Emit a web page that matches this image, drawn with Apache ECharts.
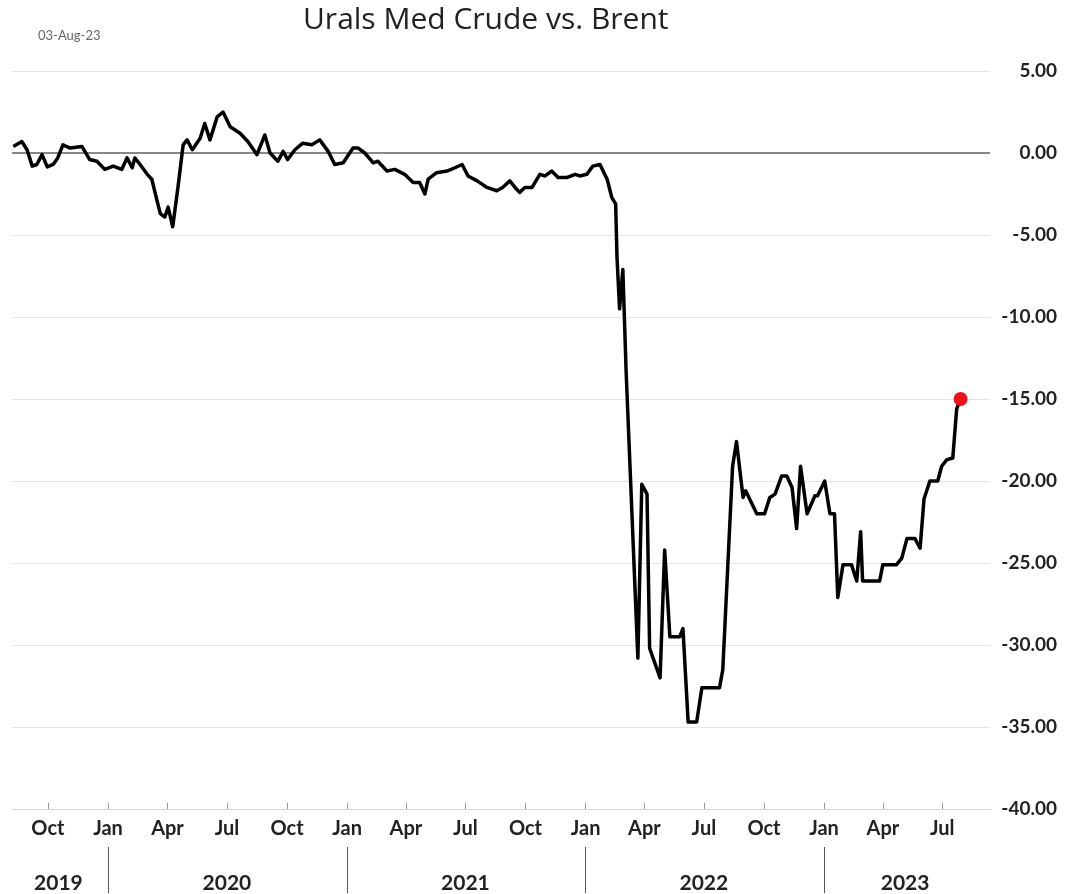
<!DOCTYPE html>
<html>
<head>
<meta charset="utf-8">
<script src="https://cdn.jsdelivr.net/npm/echarts@6/dist/echarts.min.js"></script>
<style>
    html, body { margin: 0; padding: 0; background: #fff; }
    #chart { width: 1083px; height: 894px; }
</style>
</head>
<body>
<div id="chart"></div>
<script>
// Urals Med Crude 对 Brent 价差 (美元/桶), 按图上读数估计
var dates = [
    '2019-08-09', '2019-08-22', '2019-08-30', '2019-09-07', '2019-09-14', '2019-09-22', '2019-09-30',
    '2019-10-09', '2019-10-16', '2019-10-24', '2019-11-04', '2019-11-22', '2019-12-04', '2019-12-15',
    '2019-12-27', '2020-01-09', '2020-01-22', '2020-01-30', '2020-02-07', '2020-02-11', '2020-02-19',
    '2020-03-01', '2020-03-08', '2020-03-16', '2020-03-21', '2020-03-28', '2020-04-02', '2020-04-09',
    '2020-04-17', '2020-04-25', '2020-05-01', '2020-05-09', '2020-05-21', '2020-05-28', '2020-06-05',
    '2020-06-16', '2020-06-25', '2020-07-06', '2020-07-21', '2020-08-02', '2020-08-16', '2020-08-28',
    '2020-09-05', '2020-09-17', '2020-09-25', '2020-10-02', '2020-10-13', '2020-10-25', '2020-11-08',
    '2020-11-20', '2020-12-03', '2020-12-13', '2020-12-26', '2021-01-10', '2021-01-18', '2021-01-28',
    '2021-02-10', '2021-02-17', '2021-03-03', '2021-03-15', '2021-03-30', '2021-04-12', '2021-04-22',
    '2021-04-30', '2021-05-05', '2021-05-18', '2021-06-03', '2021-06-15', '2021-06-26', '2021-07-05',
    '2021-07-19', '2021-08-03', '2021-08-18', '2021-08-27', '2021-09-07', '2021-09-15', '2021-09-22',
    '2021-09-30', '2021-10-11', '2021-10-23', '2021-10-31', '2021-11-10', '2021-11-20', '2021-12-03',
    '2021-12-16', '2021-12-23', '2022-01-03', '2022-01-12', '2022-01-23', '2022-02-03', '2022-02-10',
    '2022-02-16', '2022-02-18', '2022-02-22', '2022-02-27', '2022-03-04', '2022-03-22', '2022-03-28',
    '2022-04-05', '2022-04-09', '2022-04-25', '2022-05-02', '2022-05-10', '2022-05-25', '2022-05-30',
    '2022-06-07', '2022-06-20', '2022-06-28', '2022-07-25', '2022-07-30', '2022-08-14', '2022-08-20',
    '2022-08-30', '2022-09-03', '2022-09-20', '2022-10-02', '2022-10-10', '2022-10-18', '2022-10-28',
    '2022-11-05', '2022-11-13', '2022-11-20', '2022-11-26', '2022-12-06', '2022-12-18', '2022-12-22',
    '2023-01-02', '2023-01-10', '2023-01-17', '2023-01-22', '2023-01-30', '2023-02-12', '2023-02-20',
    '2023-02-26', '2023-03-01', '2023-03-27', '2023-04-01', '2023-04-22', '2023-04-30', '2023-05-08',
    '2023-05-20', '2023-05-28', '2023-06-03', '2023-06-12', '2023-06-24', '2023-06-30', '2023-07-08',
    '2023-07-17', '2023-07-23', '2023-07-29'
];
var spread = [
    0.4, 0.7, 0.2, -0.8, -0.7, -0.1, -0.85,
    -0.7, -0.3, 0.5, 0.3, 0.4, -0.4, -0.5,
    -1.0, -0.8, -1.0, -0.3, -0.9, -0.3, -0.7,
    -1.3, -1.6, -2.9, -3.7, -3.9, -3.3, -4.5,
    -2.1, 0.5, 0.8, 0.2, 0.9, 1.8, 0.8,
    2.2, 2.5, 1.6, 1.2, 0.7, -0.1, 1.1,
    0.0, -0.5, 0.1, -0.4, 0.2, 0.6, 0.5,
    0.8, 0.1, -0.7, -0.6, 0.3, 0.3, 0.0,
    -0.6, -0.5, -1.1, -1.0, -1.3, -1.8, -1.8,
    -2.5, -1.6, -1.2, -1.1, -0.9, -0.7, -1.4,
    -1.7, -2.1, -2.3, -2.1, -1.7, -2.1, -2.4,
    -2.1, -2.1, -1.3, -1.4, -1.1, -1.5, -1.5,
    -1.3, -1.4, -1.3, -0.8, -0.7, -1.6, -2.7,
    -3.1, -6.3, -9.5, -7.1, -13.3, -30.8, -20.2,
    -20.8, -30.2, -32.0, -24.2, -29.5, -29.5, -29.0,
    -34.7, -34.7, -32.6, -32.6, -31.5, -19.1, -17.6,
    -21.0, -20.6, -22.0, -22.0, -21.0, -20.8, -19.7,
    -19.7, -20.4, -22.9, -19.1, -22.0, -20.9, -20.9,
    -20.0, -22.0, -22.0, -27.1, -25.1, -25.1, -26.1,
    -23.1, -26.1, -26.1, -25.1, -25.1, -24.7, -23.5,
    -23.5, -24.1, -21.1, -20.0, -20.0, -19.1, -18.7,
    -18.6, -15.6, -15.0
];

// x 轴刻度(季度)与年份标签
var quarterTicks = [
    '2019-10-01', '2020-01-01', '2020-04-01', '2020-07-01', '2020-10-01', '2021-01-01', '2021-04-01',
    '2021-07-01', '2021-10-01', '2022-01-01', '2022-04-01', '2022-07-01', '2022-10-01', '2023-01-01',
    '2023-04-01', '2023-07-01'
];
var monthNames = ['Jan', 'Feb', 'Mar', 'Apr', 'May', 'Jun', 'Jul', 'Aug', 'Sep', 'Oct', 'Nov', 'Dec'];
var yearBreaks = ['2020-01-01', '2021-01-01', '2022-01-01', '2023-01-01'];
var yearLabelAt = ['2019-10-17', '2020-07-01', '2021-07-01', '2022-07-01', '2023-05-05'];

var axisMin = '2019-08-07';
var axisMax = '2023-09-12';
var font = 'Lato, "Open Sans", sans-serif';

function toTime(s) {
    var p = s.split('-');
    return new Date(+p[0], +p[1] - 1, +p[2]).getTime();
}

var lineData = dates.map(function (d, i) {
    return [toTime(d), spread[i]];
});
var lastPoint = lineData[lineData.length - 1];

var myChart = echarts.init(document.getElementById('chart'));
myChart.setOption({
    backgroundColor: '#fff',
    animation: false,
    title: [
        {
            text: 'Urals Med Crude vs. Brent',
            left: 298,
            top: 0,
            textStyle: {fontFamily: '"Open Sans", sans-serif', fontSize: 30, fontWeight: 'normal', color: '#222'}
        },
        {
            text: '03-Aug-23',
            left: 33,
            top: 24,
            textStyle: {fontFamily: font, fontSize: 13, fontWeight: 'normal', color: '#666'}
        }
    ],
    grid: {left: 12, right: 93, top: 71, bottom: 84},
    xAxis: [
        {
            // 时间戳作为数值轴, 以便自定义季度刻度
            type: 'value',
            min: toTime(axisMin),
            max: toTime(axisMax),
            axisLine: {onZero: false, lineStyle: {color: '#d8d8d8', width: 1}},
            axisTick: {
                show: true,
                inside: true,
                length: 6,
                lineStyle: {color: '#999'},
                customValues: quarterTicks.map(toTime)
            },
            axisLabel: {
                customValues: quarterTicks.map(toTime),
                margin: 10,
                fontFamily: font,
                fontSize: 20,
                fontWeight: 'bold',
                color: '#222',
                formatter: function (v) {
                    return monthNames[new Date(v).getMonth()];
                }
            },
            splitLine: {show: false}
        },
        {
            type: 'value',
            position: 'bottom',
            offset: 38,
            min: toTime(axisMin),
            max: toTime(axisMax),
            axisLine: {show: false, onZero: false},
            axisTick: {
                show: true,
                length: 46,
                lineStyle: {color: '#555', width: 1},
                customValues: yearBreaks.map(toTime)
            },
            axisLabel: {
                customValues: yearLabelAt.map(toTime),
                margin: 26,
                fontFamily: font,
                fontSize: 21,
                fontWeight: 'bold',
                color: '#222',
                formatter: function (v) {
                    return String(new Date(v).getFullYear());
                }
            },
            splitLine: {show: false}
        }
    ],
    yAxis: {
        type: 'value',
        position: 'right',
        min: -40,
        max: 5,
        interval: 5,
        axisLine: {show: false},
        axisTick: {show: false},
        axisLabel: {
            align: 'right',
            margin: 67,
            fontFamily: font,
            fontSize: 19,
            fontWeight: 'bold',
            color: '#222',
            formatter: function (v) {
                return v.toFixed(2);
            }
        },
        splitLine: {lineStyle: {color: '#e4e4e4', width: 1}}
    },
    series: [
        {
            name: 'Urals Med vs Brent',
            type: 'line',
            data: lineData,
            showSymbol: false,
            lineStyle: {color: '#000', width: 3.5, join: 'round'},
            z: 3,
            markLine: {
                silent: true,
                symbol: 'none',
                label: {show: false},
                lineStyle: {color: '#888', width: 2, type: 'solid'},
                data: [{yAxis: 0}],
                z: 2
            }
        },
        {
            type: 'scatter',
            data: [lastPoint],
            symbolSize: 14,
            itemStyle: {color: '#e8141b', opacity: 1},
            z: 4
        }
    ]
});
</script>
</body>
</html>
